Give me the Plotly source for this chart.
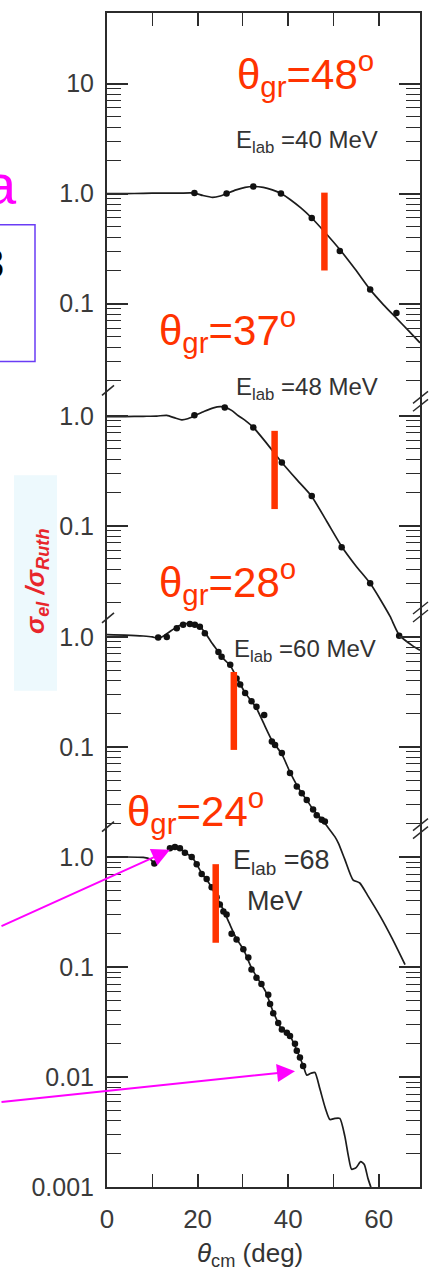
import numpy as np
import plotly.graph_objects as go

# ---------------------------------------------------------------
# Elastic scattering, sigma_el / sigma_Ruth vs theta_cm, four beam energies
# ---------------------------------------------------------------
energy_labels = ["40 MeV", "48 MeV", "60 MeV", "68"]
theta_gr = [48, 37, 28, 24]

# grazing-angle marker extent (ratio units of each panel)
gr_mark_hi = [1.02, 0.73, 0.48, 0.86]
gr_mark_lo = [0.20, 0.142, 0.094, 0.166]

# optical-model curves
curve40_theta = [0, 4, 8, 12, 16, 19.3, 21.2, 23.3, 25.0, 26.4, 28.5, 30.5, 32.3, 34.5, 36.5, 38.4,
                 40.5, 42.8, 45.2, 48.0, 51.4, 54.8, 58.1, 61.0, 64.0, 66.5, 69.1]
curve40_ratio = [1.0, 1.0, 1.005, 1.01, 1.01, 1.01, 0.96, 0.925, 0.95, 1.0, 1.08, 1.14, 1.16, 1.14, 1.08, 1.0,
                 0.88, 0.74, 0.60, 0.45, 0.31, 0.205, 0.134, 0.098, 0.073, 0.057, 0.044]

curve48_theta = [0, 4, 8, 11, 13.2, 15.2, 16.5, 17.8, 19.3, 21.5, 23.5, 25.0, 26.0, 27.5, 29.0, 30.5,
                 32.3, 35.0, 38.6, 42.0, 45.2, 48.5, 51.8, 55.0, 58.1, 60.3, 62.5, 64.5, 67.5, 69.1]
curve48_ratio = [0.985, 0.985, 0.99, 0.995, 1.01, 0.95, 0.92, 0.94, 1.0, 1.1, 1.18, 1.21, 1.2, 1.12, 1.0, 0.91,
                 0.785, 0.58, 0.377, 0.26, 0.185, 0.11, 0.065, 0.043, 0.030, 0.0215, 0.0150, 0.0102, 0.0081, 0.0074]

curve60_theta = [0, 4, 8, 10, 11.3, 12.5, 14.3, 16.0, 17.5, 19.0, 20.5, 21.6, 23.0, 24.6, 25.3, 27.2, 28.6,
                 30.5, 31.9, 33.0, 34.7, 36.4, 38.6, 40.4, 41.9, 43.0, 44.1, 45.5, 47.4, 48.6, 50.3, 51.1,
                 52.5, 54.3, 55.8, 57.5, 60.3, 63.0, 65.8]
curve60_ratio = [1.05, 1.04, 1.02, 1.0, 0.97, 1.02, 1.15, 1.27, 1.32, 1.31, 1.24, 1.1, 0.9, 0.73, 0.66, 0.55, 0.43,
                 0.31, 0.26, 0.225, 0.16, 0.115, 0.086, 0.059, 0.045, 0.038, 0.033, 0.027, 0.022, 0.019, 0.0153, 0.0133,
                 0.0095, 0.0062, 0.0058, 0.0045, 0.0029, 0.0018, 0.00105]

curve68_theta = [0, 4, 8, 9.5, 10.45, 11.5, 12.7, 13.9, 15.0, 16.1, 17.2, 18.7, 19.8, 20.9, 22.0, 23.1, 24.2,
                 25.7, 27.0, 28.6, 30.1, 31.9, 33.5, 35.0, 36.7, 38.6, 40.4, 41.9, 43.3, 44.1, 45.0, 45.9,
                 47.0, 48.2, 49.2, 50.3, 51.4, 52.5, 53.3, 54.0, 55.0, 56.0, 56.8, 57.6, 58.4, 59.0]
curve68_ratio = [1.0, 1.0, 0.99, 0.96, 0.88, 0.95, 1.08, 1.19, 1.23, 1.2, 1.1, 1.0, 0.86, 0.71, 0.62, 0.53, 0.43,
                 0.33, 0.25, 0.18, 0.145, 0.098, 0.076, 0.060, 0.039, 0.027, 0.0236, 0.0175, 0.0127, 0.0104, 0.0108, 0.011,
                 0.0078, 0.0052, 0.0041, 0.0042, 0.0042, 0.0029, 0.0019, 0.00145, 0.0015, 0.0017, 0.0016, 0.0012, 0.00095, 0.0007]

# measured cross sections
data40_theta = [19.3, 26.4, 32.3, 38.4, 45.2, 51.4, 58.1, 63.9]
data40_ratio = [1.01, 1.0, 1.16, 1.0, 0.60, 0.30, 0.134, 0.082]

data48_theta = [19.3, 26.0, 32.3, 38.6, 45.2, 51.8, 58.1, 64.5]
data48_ratio = [1.01, 1.19, 0.785, 0.377, 0.187, 0.064, 0.030, 0.010]

data60_theta = [11.3, 13.2, 15.4, 16.8, 18.3, 19.4, 20.5, 21.6, 24.6, 25.3, 27.2, 28.6, 29.4, 30.5, 31.9,
                33.0, 34.7, 36.4, 37.1, 38.6, 40.4, 41.9, 43.0, 44.1, 45.5, 46.3, 47.4, 48.1]
data60_ratio = [0.99, 1.0, 1.2, 1.29, 1.31, 1.29, 1.24, 1.08, 0.73, 0.66, 0.56, 0.42, 0.37, 0.31, 0.26,
                0.232, 0.195, 0.112, 0.104, 0.088, 0.058, 0.0436, 0.038, 0.033, 0.027, 0.024, 0.0218, 0.021]

data68_theta = [10.45, 13.9, 15.0, 16.1, 17.2, 18.7, 19.8, 20.9, 22.0, 23.1, 24.2, 24.9, 25.7, 26.4, 27.5,
                28.6, 30.1, 31.2, 31.9, 33.0, 34.1, 35.6, 36.0, 36.7, 37.8, 38.6, 39.7, 40.4, 41.5, 41.9,
                42.6, 43.3]
data68_ratio = [0.87, 1.2, 1.23, 1.2, 1.09, 1.0, 0.86, 0.70, 0.63, 0.53, 0.43, 0.37, 0.32, 0.30, 0.20,
                0.178, 0.145, 0.122, 0.095, 0.080, 0.070, 0.056, 0.046, 0.038, 0.031, 0.027, 0.0253, 0.0236, 0.020, 0.0173,
                0.015, 0.0126]

# y tick labels of each panel
panel_tick_values = [[10, 1, 0.1], [1, 0.1], [1, 0.1], [1, 0.1, 0.01, 0.001]]
panel_tick_labels = [["10", "1.0", "0.1"], ["1.0", "0.1"], ["1.0", "0.1"], ["1.0", "0.1", "0.01", "0.001"]]
panel_minor_decades = [[1, 0.1, 0.01], [0.1, 0.01], [0.1, 0.01], [0.1, 0.01, 0.001]]

# x ticks
x_tick_values = [0, 20, 40, 60]
x_tick_labels = ["0", "20", "40", "60"]
x_minor_values = [10, 30, 50]

# ---------------------------------------------------------------
# layout geometry
# ---------------------------------------------------------------
W, H = 435, 1272
ML, MR, MT, MB = 107, 15, 11, 85
PW, PH = W - ML - MR, H - MT - MB
PANEL_SHIFT = [0.03, -1.99, -4.0, -6.0]     # decades each panel is moved down
Y_RANGE = [-9.0, -9.0 + PH / 110.2]
X_RANGE = [0, 69.1]

RED = "#ff3300"
INK = "#2b2b2b"
MAGENTA = "#ff00ff"
FONT = "Liberation Sans, Arial, sans-serif"


def px_x(x):
    return (x - ML) / PW


def px_y(y):
    return (H - MB - y) / PH


def shifted(vals, k):
    return [v * 10 ** PANEL_SHIFT[k] for v in vals]


curves = [(curve40_theta, curve40_ratio), (curve48_theta, curve48_ratio),
          (curve60_theta, curve60_ratio), (curve68_theta, curve68_ratio)]
points = [(data40_theta, data40_ratio), (data48_theta, data48_ratio),
          (data60_theta, data60_ratio), (data68_theta, data68_ratio)]

fig = go.Figure()

for k in range(4):
    ct, cr = curves[k]
    fig.add_trace(go.Scatter(x=ct, y=shifted(cr, k), mode="lines",
                             line=dict(color="#1c1c1c", width=1.7, shape="spline", smoothing=0.6),
                             hoverinfo="skip", showlegend=False))
    dt, dr = points[k]
    fig.add_trace(go.Scatter(x=dt, y=shifted(dr, k), mode="markers",
                             marker=dict(color="#111111", size=6.5),
                             hoverinfo="skip", showlegend=False))
    # grazing-angle bar
    fig.add_trace(go.Scatter(x=[theta_gr[k], theta_gr[k]],
                             y=shifted([gr_mark_lo[k], gr_mark_hi[k]], k), mode="lines",
                             line=dict(color=RED, width=6.5),
                             hoverinfo="skip", showlegend=False))

# y ticks (major + minor) in the stacked log frame
ytv, ytt, ymv = [], [], []
for k in range(4):
    ytv += shifted(panel_tick_values[k], k)
    ytt += panel_tick_labels[k]
    for d in panel_minor_decades[k]:
        ymv += shifted([m * d for m in range(2, 10)], k)

tick_font = dict(family=FONT, size=25, color="#3a3a3a")

fig.update_yaxes(type="log", range=Y_RANGE, tickmode="array", tickvals=ytv, ticktext=ytt,
                 ticks="inside", ticklen=21, tickwidth=1.6, tickcolor=INK,
                 showline=True, linewidth=2, linecolor=INK, mirror="ticks",
                 showgrid=False, zeroline=False, tickfont=tick_font, ticklabelstandoff=6,
                 minor=dict(tickmode="array", tickvals=ymv, ticks="inside", ticklen=14,
                            tickwidth=1.4, tickcolor=INK, showgrid=False))
fig.update_xaxes(range=X_RANGE, tickmode="array", tickvals=x_tick_values, ticktext=x_tick_labels,
                 ticks="inside", ticklen=13, tickwidth=1.6, tickcolor=INK,
                 showline=True, linewidth=2, linecolor=INK, mirror="ticks",
                 showgrid=False, zeroline=False, tickfont=dict(tick_font, size=26),
                 ticklabelstandoff=8,
                 minor=dict(tickmode="array", tickvals=x_minor_values, ticks="inside", ticklen=13,
                            tickwidth=1.4, tickcolor=INK, showgrid=False))

annotations = []
shapes = []

# grazing angle labels
gr_pos = [(235, 72), (157, 328), (157, 580), (125, 810)]
for k in range(4):
    x0, y0 = gr_pos[k]
    annotations.append(dict(x=px_x(x0), y=px_y(y0), xref="paper", yref="paper",
                            xanchor="left", yanchor="middle", showarrow=False,
                            text="θ<sub>gr</sub>=%d<sup>o</sup>" % theta_gr[k],
                            font=dict(family=FONT, size=42, color=RED)))

# beam energy labels
e_pos = [(234, 140), (234, 387), (232, 650), (231, 861)]
e_size = [24, 24, 24, 27]
for k in range(4):
    x0, y0 = e_pos[k]
    annotations.append(dict(x=px_x(x0), y=px_y(y0), xref="paper", yref="paper",
                            xanchor="left", yanchor="middle", showarrow=False,
                            text="E<sub>lab</sub> =" + energy_labels[k],
                            font=dict(family=FONT, size=e_size[k], color="#333333")))
annotations.append(dict(x=px_x(245), y=px_y(901), xref="paper", yref="paper",
                        xanchor="left", yanchor="middle", showarrow=False, text="MeV",
                        font=dict(family=FONT, size=27, color="#333333")))

# axis titles
annotations.append(dict(x=px_x(250), y=px_y(1255), xref="paper", yref="paper",
                        xanchor="center", yanchor="middle", showarrow=False,
                        text="<i>θ</i><sub>cm</sub> (deg)",
                        font=dict(family=FONT, size=26, color="#333333")))
shapes.append(dict(type="rect", xref="paper", yref="paper",
                   x0=px_x(14), x1=px_x(57), y0=px_y(690), y1=px_y(474),
                   fillcolor="#edf9fd", line=dict(width=0), layer="below"))
annotations.append(dict(x=px_x(36), y=px_y(580), xref="paper", yref="paper",
                        xanchor="center", yanchor="middle", showarrow=False, textangle=-90,
                        text="<b><i>σ<sub>el</sub> /σ<sub>Ruth</sub></i></b>",
                        font=dict(family=FONT, size=26, color="#e8262c")))

# side text and frame cut at the left edge
annotations.append(dict(x=px_x(19), y=px_y(183), xref="paper", yref="paper",
                        xanchor="right", yanchor="middle", showarrow=False, text="a",
                        font=dict(family=FONT, size=56, color=MAGENTA)))
annotations.append(dict(x=px_x(6), y=px_y(262), xref="paper", yref="paper",
                        xanchor="right", yanchor="middle", showarrow=False, text="3",
                        font=dict(family=FONT, size=42, color="#000000")))
shapes.append(dict(type="rect", xref="paper", yref="paper",
                   x0=px_x(-20), x1=px_x(35), y0=px_y(360), y1=px_y(223),
                   line=dict(color="#6a3cf5", width=1.5), fillcolor="rgba(0,0,0,0)"))

# arrows toward the 68 MeV rainbow peak and the end of the data
arrow_tips = [(13.9, 1.16, -200, 77), (41.5, 0.0113, -320, 31)]
for th, r, ax, ay in arrow_tips:
    annotations.append(dict(x=th, y=np.log10(r) + PANEL_SHIFT[3], xref="x", yref="y",
                            ax=ax, ay=ay, axref="pixel", ayref="pixel", text="",
                            showarrow=True, arrowhead=2, arrowsize=1.8, arrowwidth=2,
                            arrowcolor=MAGENTA, standoff=0))

# axis break marks between panels
left_breaks = [389, 617, 826]
right_breaks = [400, 611, 828]
for yb in left_breaks:
    shapes.append(dict(type="line", xref="paper", yref="paper",
                       x0=px_x(102), y0=px_y(yb + 5), x1=px_x(114), y1=px_y(yb - 5),
                       line=dict(color=INK, width=1.6)))
for yb in right_breaks:
    for dy in (-4, 4):
        shapes.append(dict(type="line", xref="paper", yref="paper",
                           x0=px_x(413), y0=px_y(yb + dy + 6), x1=px_x(428), y1=px_y(yb + dy - 6),
                           line=dict(color=INK, width=1.4)))

fig.update_layout(width=W, height=H, autosize=False,
                  margin=dict(l=ML, r=MR, t=MT, b=MB, pad=0),
                  paper_bgcolor="white", plot_bgcolor="white",
                  showlegend=False, annotations=annotations, shapes=shapes)

fig.write_html("out.html", config={"displayModeBar": False})
